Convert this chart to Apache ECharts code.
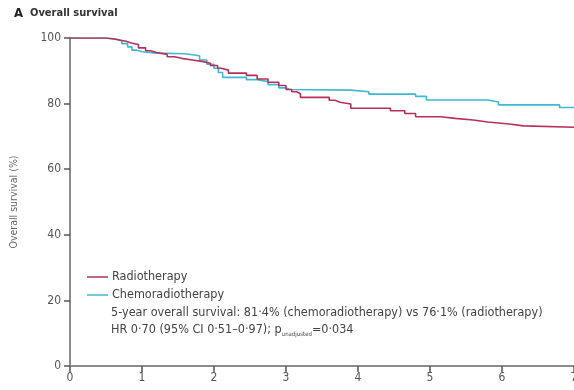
<!DOCTYPE html>
<html>
<head>
<meta charset="utf-8">
<script src="https://cdn.jsdelivr.net/npm/echarts@6/dist/echarts.min.js"></script>
<style>
html,body{margin:0;padding:0;background:#fff;}
#chart{width:574px;height:390px;}
</style>
</head>
<body>
<div id="chart"></div>
<script>
// ---- data ----
var seriesNames = ['Radiotherapy', 'Chemoradiotherapy'];
var radioTime = [0, 0.5, 0.62, 0.7, 0.78, 0.85, 0.95, 1.05, 1.12, 1.2, 1.35, 1.45, 1.55, 1.7, 1.85, 1.95, 2.05, 2.1, 2.2, 2.45, 2.6, 2.75, 2.9, 3.0, 3.08, 3.15, 3.2, 3.6, 3.68, 3.75, 3.9, 4.45, 4.65, 4.8, 5.15, 5.35, 5.6, 5.8, 6.1, 6.3, 7.0];
var radioSurv = [100, 99.7, 99.3, 99.0, 98.5, 98.0, 97.0, 96.1, 95.6, 95.0, 94.3, 93.8, 93.3, 92.8, 92.3, 91.6, 90.8, 90.2, 89.3, 88.6, 87.5, 86.5, 85.5, 84.3, 83.6, 83.0, 81.9, 81.0, 80.4, 79.9, 78.6, 77.8, 77.0, 76.0, 75.5, 75.0, 74.4, 73.8, 73.2, 72.8, 72.8];
var chemoTime = [0, 0.5, 0.62, 0.72, 0.8, 0.86, 0.93, 1.0, 1.2, 1.6, 1.8, 1.9, 2.0, 2.06, 2.12, 2.45, 2.6, 2.75, 2.9, 3.0, 3.05, 3.9, 4.15, 4.8, 4.95, 5.8, 5.95, 6.8, 7.0];
var chemoSurv = [100, 99.7, 99.2, 98.3, 97.3, 96.3, 95.8, 95.4, 95.2, 94.6, 93.3, 92.0, 90.8, 89.5, 88.0, 87.3, 86.7, 85.8, 84.8, 84.3, 84.1, 83.6, 82.9, 82.2, 81.1, 80.5, 79.6, 78.8, 78.8];
var xTicks = [0, 1, 2, 3, 4, 5, 6, 7];
var yTicks = [0, 20, 40, 60, 80, 100];
var panelLetter = 'A';
var panelTitle = 'Overall survival';
var yAxisTitle = 'Overall survival (%)';
var noteLine1 = '5-year overall survival: 81\u00b74% (chemoradiotherapy) vs 76\u00b71% (radiotherapy)';
var noteLine2a = 'HR 0\u00b770 (95% CI 0\u00b751\u20130\u00b797); p';
var noteLine2sub = 'unadjusted';
var noteLine2b = '=0\u00b7034';

function pairs(t, v) { return t.map(function (x, i) { return [x, v[i]]; }); }

var FONT = "'Liberation Sans Narrow','DejaVu Sans Condensed','Liberation Sans',sans-serif";
var RED = '#b8305a';
var CYAN = '#3db9d5';
var AXIS = '#8c8c8c';

var chart = echarts.init(document.getElementById('chart'), null, {renderer: 'canvas'});
chart.setOption({
  animation: false,
  backgroundColor: '#fff',
  textStyle: {fontFamily: FONT},
  grid: {left: 70, right: 0, top: 38, bottom: 24, containLabel: false, outerBoundsMode: 'none'},
  xAxis: {
    type: 'value', min: xTicks[0], max: xTicks[xTicks.length - 1], interval: 1,
    axisLine: {lineStyle: {color: AXIS, width: 2}},
    axisTick: {show: true, inside: false, length: 6, lineStyle: {color: '#555', width: 1.5}},
    axisLabel: {color: '#555', fontSize: 12, fontFamily: FONT, margin: 6, showMaxLabel: true},
    splitLine: {show: false}
  },
  yAxis: {
    type: 'value', min: yTicks[0], max: yTicks[yTicks.length - 1], interval: 20,
    name: yAxisTitle, nameLocation: 'middle', nameRotate: 90, nameGap: 50,
    nameTextStyle: {color: '#666', fontSize: 10.5, fontFamily: FONT},
    axisLine: {lineStyle: {color: AXIS, width: 2}},
    axisTick: {show: true, inside: false, length: 6, lineStyle: {color: '#555', width: 1.5}},
    axisLabel: {color: '#555', fontSize: 12, fontFamily: FONT, margin: 9},
    splitLine: {show: false}
  },
  legend: {
    orient: 'vertical', left: 82, top: 265,
    icon: 'rect', itemWidth: 21, itemHeight: 1.5, itemGap: 4,
    data: [seriesNames[0], seriesNames[1]],
    textStyle: {color: '#444', fontSize: 12.5, fontFamily: FONT, lineHeight: 14, padding: [0, 0, 0, -1]}
  },
  graphic: [
    {type: 'text', left: 14, top: 7, style: {text: panelLetter, font: "bold 13px " + FONT, fill: '#222'}},
    {type: 'text', left: 30, top: 8, style: {text: panelTitle, font: "bold 11px " + FONT, fill: '#333'}},
    {type: 'text', left: 111, top: 306, style: {text: noteLine1, font: "12.5px " + FONT, fill: '#444'}},
    {type: 'text', left: 111, top: 323, style: {
      text: '{a|' + noteLine2a + '}{s|' + noteLine2sub + '}{a|' + noteLine2b + '}',
      fill: '#444',
      rich: {
        a: {fontSize: 12.5, fontFamily: FONT, fill: '#444', lineHeight: 15},
        s: {fontSize: 6, fontFamily: FONT, fill: '#444', verticalAlign: 'bottom', lineHeight: 11}
      }
    }}
  ],
  series: [
    {
      name: seriesNames[1], type: 'line', step: 'end', showSymbol: false, symbol: 'none',
      data: pairs(chemoTime, chemoSurv),
      lineStyle: {color: CYAN, width: 1.6}, itemStyle: {color: CYAN}, z: 2
    },
    {
      name: seriesNames[0], type: 'line', step: 'end', showSymbol: false, symbol: 'none',
      data: pairs(radioTime, radioSurv),
      lineStyle: {color: RED, width: 1.6}, itemStyle: {color: RED}, z: 3
    }
  ]
});
</script>
</body>
</html>
